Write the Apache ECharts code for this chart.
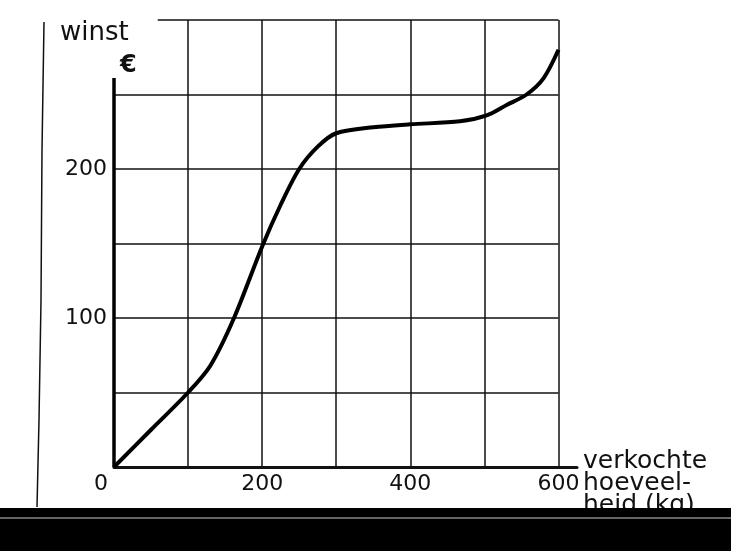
<!DOCTYPE html>
<html>
<head>
<meta charset="utf-8">
<title>winst</title>
<script src="https://cdn.jsdelivr.net/npm/echarts@6/dist/echarts.min.js"></script>
<style>
  html, body { margin: 0; padding: 0; background: #fff; }
  #lineChart { width: 731px; height: 551px; }
</style>
</head>
<body>
<div id="lineChart"></div>
<script>
// verkochte hoeveelheid (x) en winst in euro (y)
var hoeveelheid = [0, 50, 100, 130, 162, 200, 225, 250, 275, 300, 350, 400, 467, 503, 530, 557, 580, 600];
var winst = [0, 25, 50, 68, 100, 148, 176, 200, 215, 224, 228, 230, 232, 236, 243, 250, 261, 280];

var xLabels = [0, 200, 400, 600];
var yLabels = [100, 200];
// horizontale roosterlijnen (euro)
var gridY = [50, 100, 150, 200, 250];
var xName = ['verkochte', 'hoeveel-', 'heid (kg)'];
var yName = 'winst';
var yUnit = '€';

var font = 'DejaVu Sans';
var ink = '#111';

var points = [];
for (var i = 0; i < hoeveelheid.length; i++) {
  points.push([hoeveelheid[i], winst[i]]);
}

var gridLines = [];
for (var j = 0; j < gridY.length; j++) {
  gridLines.push([{ coord: [0, gridY[j]] }, { coord: [600, gridY[j]] }]);
}
// dikke y-as, loopt niet helemaal tot boven
gridLines.push([{ coord: [0, 0], lineStyle: { width: 3.5, color: '#000' } }, { coord: [0, 261] }]);
// bovenrand van het rooster, begint rechts van "winst"
gridLines.push([{ coord: [59, 300] }, { coord: [600, 300] }]);

var chart = echarts.init(document.getElementById('lineChart'), null, { renderer: 'canvas' });

var options = {
  animation: false,
  backgroundColor: '#fff',
  grid: { left: 114, right: 154, top: 20, bottom: 84 },
  xAxis: {
    type: 'value',
    min: 0,
    max: 625,
    interval: 100,
    axisLine: { show: true, lineStyle: { color: ink, width: 3 } },
    axisTick: { show: false },
    splitLine: {
      show: true,
      showMinLine: false,
      showMaxLine: false,
      lineStyle: { color: ink, width: 1.5 }
    },
    axisLabel: {
      margin: 6,
      showMaxLabel: false,
      fontFamily: font,
      fontSize: 22,
      color: ink,
      formatter: function (v) {
        if (v === 0) return '{z|0}';
        return xLabels.indexOf(v) >= 0 ? String(v) : '';
      },
      rich: {
        z: { fontFamily: font, fontSize: 22, color: ink, padding: [0, 26, 0, 0] }
      }
    }
  },
  yAxis: {
    type: 'value',
    min: 0,
    max: 300,
    interval: 50,
    axisLine: { show: false },
    axisTick: { show: false },
    splitLine: { show: false },
    axisLabel: {
      margin: 7,
      fontFamily: font,
      fontSize: 22,
      color: ink,
      formatter: function (v) {
        return yLabels.indexOf(v) >= 0 ? String(v) : '';
      }
    }
  },
  series: [
    {
      name: 'winst',
      type: 'line',
      data: points,
      showSymbol: false,
      smooth: 0.3,
      lineStyle: { color: '#000', width: 4 },
      markLine: {
        silent: true,
        symbol: 'none',
        label: { show: false },
        lineStyle: { color: ink, width: 1.5, type: 'solid' },
        data: gridLines
      },
      z: 5
    }
  ],
  graphic: [
    // kantlijn van de gescande pagina
    {
      type: 'polyline',
      shape: { points: [[44, 22], [42, 150], [41, 300], [39, 420], [37, 507]] },
      style: { stroke: ink, lineWidth: 1.5, fill: null }
    },
    {
      type: 'text',
      left: 60,
      top: 20,
      style: { text: yName, fontFamily: font, fontSize: 26, fill: ink }
    },
    {
      type: 'text',
      left: 120,
      top: 54,
      style: { text: yUnit, fontFamily: font, fontSize: 24, fontWeight: 'bold', fill: ink }
    },
    {
      type: 'text',
      left: 583,
      top: 449,
      style: { text: xName.join('\n'), fontFamily: font, fontSize: 25, lineHeight: 22, fill: ink }
    },
    // zwarte rand onderaan de scan
    {
      type: 'rect',
      shape: { x: 0, y: 508, width: 731, height: 43 },
      style: { fill: '#000' },
      z: 100
    },
    {
      type: 'line',
      shape: { x1: 0, y1: 518, x2: 731, y2: 518 },
      style: { stroke: '#888', lineWidth: 1.5 },
      z: 101
    }
  ]
};

chart.setOption(options);
</script>
</body>
</html>
